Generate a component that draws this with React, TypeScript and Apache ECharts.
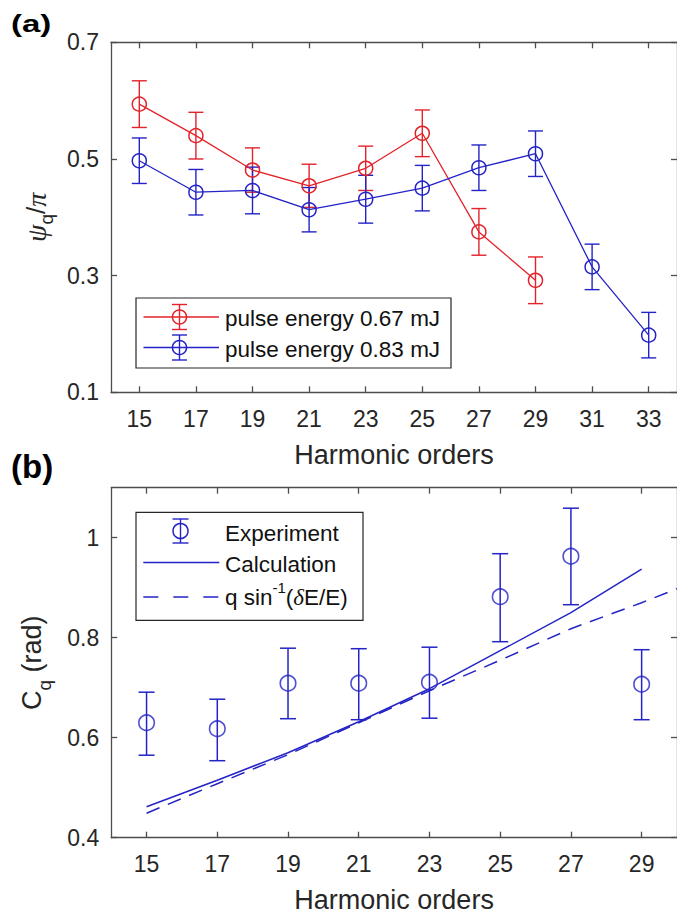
import React, { useEffect, useRef } from 'react';
import * as echarts from 'echarts';

// ---------- panel (a) data ----------
const orderTicksA = [15, 17, 19, 21, 23, 25, 27, 29, 31, 33];
const psiTicks = [0.1, 0.3, 0.5, 0.7];
const orders067 = [15, 17, 19, 21, 23, 25, 27, 29];
const psi067 = [0.594, 0.54, 0.481, 0.454, 0.484, 0.544, 0.375, 0.292];
const psi067Err = [0.04, 0.04, 0.038, 0.037, 0.038, 0.04, 0.04, 0.04];
const orders083 = [15, 17, 19, 21, 23, 25, 27, 29, 31, 33];
const psi083 = [0.497, 0.443, 0.446, 0.413, 0.431, 0.45, 0.485, 0.509, 0.315, 0.198];
const psi083Err = [0.039, 0.039, 0.04, 0.038, 0.041, 0.039, 0.039, 0.039, 0.039, 0.039];

// ---------- panel (b) data ----------
const orderTicksB = [15, 17, 19, 21, 23, 25, 27, 29];
const cqTicks = [0.4, 0.6, 0.8, 1];
const ordersExp = [15, 17, 19, 21, 23, 25, 27, 29];
const cqExp = [0.63, 0.618, 0.709, 0.709, 0.711, 0.882, 0.963, 0.707];
const cqLow = [0.565, 0.554, 0.638, 0.636, 0.639, 0.792, 0.866, 0.636];
const cqHigh = [0.691, 0.677, 0.779, 0.778, 0.781, 0.968, 1.059, 0.776];
const ordersCalc = [15, 17, 19, 21, 23, 25, 27, 29];
const cqCalc = [0.462, 0.515, 0.57, 0.632, 0.698, 0.774, 0.85, 0.937];
const ordersApprox = [15, 17, 19, 21, 23, 25, 27, 29, 30];
const cqApprox = [0.449, 0.508, 0.566, 0.63, 0.694, 0.755, 0.818, 0.87, 0.898];

const RED = '#e2232a';
const BLUE = '#2323c6';
const AX = '#4d4d4d';
const TXT = '#262626';
const FONT = "'Liberation Sans', Arial, Helvetica, sans-serif";
const SERIF = "'Liberation Serif', 'Times New Roman', serif";

function xAxesFor(gridIndex: number, min: number, max: number, ticks: number[]) {
  const line = { show: true, onZero: false, lineStyle: { color: AX, width: 1.3 } };
  const tick = { show: true, inside: true, length: 6, customValues: ticks, lineStyle: { color: AX, width: 1.3 } };
  return [
    {
      type: 'value', gridIndex, min, max, position: 'bottom',
      axisLine: line, axisTick: tick, splitLine: { show: false },
      axisLabel: { customValues: ticks, margin: 15, fontSize: 23, color: TXT, fontFamily: FONT },
      name: 'Harmonic orders', nameLocation: 'middle', nameGap: 49,
      nameTextStyle: { fontSize: 27, color: TXT, fontFamily: FONT },
    },
    {
      type: 'value', gridIndex, min, max, position: 'top',
      axisLine: line, axisTick: tick, splitLine: { show: false },
      axisLabel: { show: false },
    },
  ];
}

function yAxesFor(gridIndex: number, min: number, max: number, ticks: number[], name: string, rich: any, nameGap: number) {
  const line = { show: true, onZero: false, lineStyle: { color: AX, width: 1.3 } };
  const tick = { show: true, inside: true, length: 6, customValues: ticks, lineStyle: { color: AX, width: 1.3 } };
  return [
    {
      type: 'value', gridIndex, min, max, position: 'left',
      axisLine: line, axisTick: tick, splitLine: { show: false },
      axisLabel: { customValues: ticks, margin: 12, fontSize: 23, color: TXT, fontFamily: FONT,
        formatter: (v: number) => String(Math.round(v * 10) / 10) },
      name, nameLocation: 'middle', nameGap,
      nameTextStyle: { color: TXT, fontFamily: FONT, rich },
    },
    {
      type: 'value', gridIndex, min, max, position: 'right',
      axisLine: line, axisTick: tick, splitLine: { show: false },
      axisLabel: { show: false },
    },
  ];
}

function errorBarSeries(xi: number, yi: number, data: number[][], color: string, width: number, cap: number) {
  return {
    type: 'custom', xAxisIndex: xi, yAxisIndex: yi, data,
    encode: { x: 0, y: [1, 2] }, z: 3, silent: true,
    renderItem: (_p: any, api: any) => {
      const x = api.value(0);
      const lo = api.coord([x, api.value(1)]);
      const hi = api.coord([x, api.value(2)]);
      const style = { stroke: color, lineWidth: width, fill: 'none' };
      return {
        type: 'group',
        children: [
          { type: 'line', shape: { x1: lo[0], y1: lo[1], x2: hi[0], y2: hi[1] }, style },
          { type: 'line', shape: { x1: lo[0] - cap, y1: lo[1], x2: lo[0] + cap, y2: lo[1] }, style },
          { type: 'line', shape: { x1: hi[0] - cap, y1: hi[1], x2: hi[0] + cap, y2: hi[1] }, style },
        ],
      };
    },
  };
}

function legendGlyph(cx: number, cy: number, x1: number, x2: number, color: string, r: number, half: number, cap: number, withLine: boolean) {
  const st = { stroke: color, lineWidth: 1.4, fill: 'none' };
  const els: any[] = [];
  if (withLine) els.push({ type: 'line', z: 20, shape: { x1, y1: cy, x2, y2: cy }, style: st });
  els.push({ type: 'circle', z: 21, shape: { cx, cy, r }, style: { stroke: color, lineWidth: 1.5, fill: 'rgba(0,0,0,0)' } });
  els.push({ type: 'line', z: 21, shape: { x1: cx, y1: cy - half, x2: cx, y2: cy + half }, style: st });
  els.push({ type: 'line', z: 21, shape: { x1: cx - cap, y1: cy - half, x2: cx + cap, y2: cy - half }, style: st });
  els.push({ type: 'line', z: 21, shape: { x1: cx - cap, y1: cy + half, x2: cx + cap, y2: cy + half }, style: st });
  return els;
}

function legendText(x: number, y: number, text: string, rich?: any) {
  return {
    type: 'text', z: 22, x, y,
    style: {
      text, fill: '#111', fontSize: 22.5, fontFamily: FONT,
      align: 'left', verticalAlign: 'middle', textAlign: 'left', textVerticalAlign: 'middle',
      ...(rich ? { rich } : {}),
    },
  };
}

export default function App() {
  const ref = useRef<HTMLDivElement>(null);
  useEffect(() => {
    if (!ref.current) return;
    const chart = echarts.init(ref.current, undefined, { renderer: 'svg' });

    const psiRich = {
      g: { fontFamily: SERIF, fontStyle: 'italic', fontSize: 28, lineHeight: 40, color: TXT },
      s: { fontFamily: FONT, fontSize: 19, lineHeight: 19, verticalAlign: 'bottom', color: TXT },
      n: { fontFamily: FONT, fontSize: 26, lineHeight: 40, color: TXT },
    };
    const cqRich = {
      m: { fontFamily: FONT, fontSize: 27, lineHeight: 44, color: TXT },
      s: { fontFamily: FONT, fontSize: 19, lineHeight: 19, verticalAlign: 'bottom', color: TXT },
    };

    const xA = xAxesFor(0, 14, 34, orderTicksA);
    const yA = yAxesFor(0, 0.1, 0.7, psiTicks, '{g|ψ}{s|q}{n|/}{g|π}', psiRich, 55);
    const xB = xAxesFor(1, 14, 30, orderTicksB);
    const yB = yAxesFor(1, 0.4, 1.1, cqTicks, '{m|C}{s|q}{m| (rad)}', cqRich, 57);

    const sqRich = {
      n: { fontFamily: FONT, fontSize: 22.5, lineHeight: 34, color: '#111' },
      sup: { fontFamily: FONT, fontSize: 15, lineHeight: 15, verticalAlign: 'top', color: '#111' },
      d: { fontFamily: SERIF, fontStyle: 'italic', fontSize: 23, lineHeight: 34, color: '#111' },
    };

    const graphic: any[] = [
      { type: 'text', x: 11, y: 24, scaleY: 0.72, z: 30, style: { text: '(a)', fontSize: 33, fontWeight: 'bold', fontFamily: FONT, fill: '#000', verticalAlign: 'middle', textVerticalAlign: 'middle' } },
      { type: 'text', x: 11, y: 466.5, z: 30, style: { text: '(b)', fontSize: 33, fontWeight: 'bold', fontFamily: FONT, fill: '#000', verticalAlign: 'middle', textVerticalAlign: 'middle' } },
      // legend (a)
      { type: 'rect', z: 19, shape: { x: 136, y: 298, width: 315, height: 70 }, style: { fill: '#fff', stroke: '#262626', lineWidth: 1.2 } },
      ...legendGlyph(179.5, 317, 143.5, 219, RED, 7, 12.5, 7.5, true),
      ...legendGlyph(179.5, 347.5, 143.5, 219, BLUE, 7, 12.5, 7.5, true),
      legendText(225, 318, 'pulse energy 0.67 mJ'),
      legendText(225, 349, 'pulse energy 0.83 mJ'),
      // legend (b)
      { type: 'rect', z: 19, shape: { x: 136, y: 512.3, width: 227, height: 108 }, style: { fill: '#fff', stroke: '#262626', lineWidth: 1.2 } },
      ...legendGlyph(180.5, 531, 0, 0, BLUE, 7.5, 12, 8, false),
      { type: 'line', z: 20, shape: { x1: 143.3, y1: 562.5, x2: 219.3, y2: 562.5 }, style: { stroke: BLUE, lineWidth: 1.5 } },
      { type: 'line', z: 20, shape: { x1: 143.3, y1: 597, x2: 219.3, y2: 597 }, style: { stroke: BLUE, lineWidth: 1.5, lineDash: [15, 15] } },
      legendText(225, 533, 'Experiment'),
      legendText(225, 564, 'Calculation'),
      legendText(225, 597, '{n|q sin}{sup|-1}{n|(}{d|δ}{n|E/E)}', sqRich),
    ];

    const option: any = {
      animation: false,
      backgroundColor: '#fff',
      grid: [
        { left: 111, top: 42.3, width: 569.3, height: 350 },
        { left: 111.2, top: 487.7, width: 568.6, height: 350 },
      ],
      xAxis: [...xA, ...xB],
      yAxis: [...yA, ...yB],
      graphic,
      series: [
        errorBarSeries(0, 0, orders067.map((q, i) => [q, psi067[i] - psi067Err[i], psi067[i] + psi067Err[i]]), RED, 1.4, 7.5),
        {
          type: 'line', name: 'pulse energy 0.67 mJ', xAxisIndex: 0, yAxisIndex: 0,
          data: orders067.map((q, i) => [q, psi067[i]]),
          symbol: 'circle', symbolSize: 14, z: 4,
          itemStyle: { color: 'rgba(0,0,0,0)', borderColor: RED, borderWidth: 1.5 },
          lineStyle: { color: RED, width: 1.3 },
        },
        errorBarSeries(0, 0, orders083.map((q, i) => [q, psi083[i] - psi083Err[i], psi083[i] + psi083Err[i]]), BLUE, 1.4, 7.5),
        {
          type: 'line', name: 'pulse energy 0.83 mJ', xAxisIndex: 0, yAxisIndex: 0,
          data: orders083.map((q, i) => [q, psi083[i]]),
          symbol: 'circle', symbolSize: 14, z: 4,
          itemStyle: { color: 'rgba(0,0,0,0)', borderColor: BLUE, borderWidth: 1.5 },
          lineStyle: { color: BLUE, width: 1.3 },
        },
        errorBarSeries(2, 2, ordersExp.map((q, i) => [q, cqLow[i], cqHigh[i]]), BLUE, 1.5, 8),
        {
          type: 'scatter', name: 'Experiment', xAxisIndex: 2, yAxisIndex: 2,
          data: ordersExp.map((q, i) => [q, cqExp[i]]),
          symbol: 'circle', symbolSize: 15.5, z: 4,
          itemStyle: { color: 'rgba(0,0,0,0)', borderColor: BLUE, borderWidth: 1.6 },
        },
        {
          type: 'line', name: 'Calculation', xAxisIndex: 2, yAxisIndex: 2,
          data: ordersCalc.map((q, i) => [q, cqCalc[i]]),
          symbol: 'none', lineStyle: { color: BLUE, width: 1.5 },
        },
        {
          type: 'line', name: 'q sin^-1(δE/E)', xAxisIndex: 2, yAxisIndex: 2,
          data: ordersApprox.map((q, i) => [q, cqApprox[i]]),
          symbol: 'none', lineStyle: { color: BLUE, width: 1.5, type: [14, 9] },
        },
      ],
    };
    chart.setOption(option);
    return () => chart.dispose();
  }, []);

  return (
    <div
      ref={ref}
      style={{ position: 'absolute', left: 0, top: 0, width: 677, height: 919, background: '#fff' }}
    />
  );
}
